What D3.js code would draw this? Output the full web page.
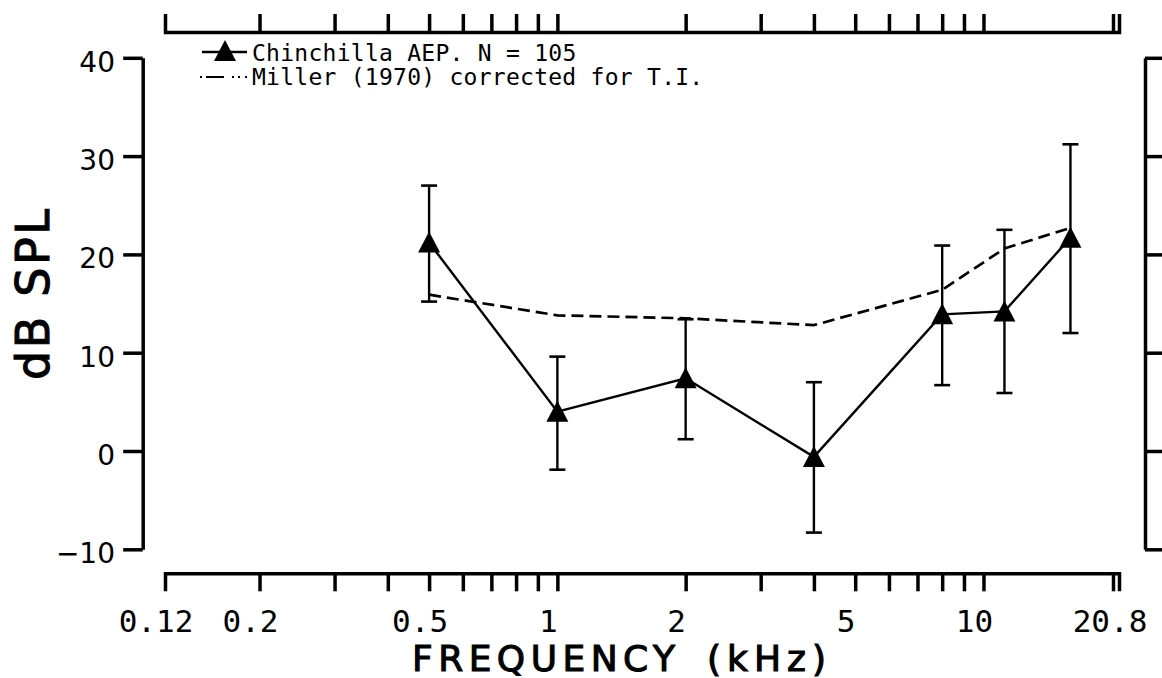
<!DOCTYPE html>
<html>
<head>
<meta charset="utf-8">
<script src="https://cdn.jsdelivr.net/npm/d3@7"></script>
<style>
  html, body { margin: 0; padding: 0; background: #fff; }
  svg { display: block; }
</style>
</head>
<body>
<svg id="chart" width="1162" height="678"></svg>
<script>
// ---------- data ----------
const freqs      = [0.5, 1, 2, 4, 8, 11.2, 16];          // kHz
const chinMean   = [21.2, 4.0, 7.4, -0.6, 13.9, 14.2, 21.7];
const chinUpper  = [27.0, 9.6, 13.4, 7.0, 20.9, 22.5, 31.2];
const chinLower  = [15.2, -1.9, 1.2, -8.3, 6.7, 5.9, 12.0];
const millerFreqs = [0.5, 1, 2, 4, 8, 11.2, 16];
const millerVals  = [15.9, 13.8, 13.5, 12.8, 16.4, 20.6, 22.7];

const xTickVals  = [0.2, 0.3, 0.4, 0.5, 0.6, 0.7, 0.8, 0.9, 1, 2, 3, 4, 5, 6, 7, 8, 9, 10];
const xLabelVals = [0.12, 0.2, 0.5, 1, 2, 5, 10, 20.8];
const xLabelText = ["0.12", "0.2", "0.5", "1", "2", "5", "10", "20.8"];
const yTickVals  = [-10, 0, 10, 20, 30, 40];
const legendText = ["Chinchilla AEP. N = 105", "Miller (1970) corrected for T.I."];

// ---------- scales ----------
const svg = d3.select("#chart");
const x = d3.scaleLog().domain([0.12, 20.8]).range([165, 1119]);
const y = d3.scaleLinear().domain([-10, 40]).range([549.3, 57.8]);

const AX_W = 3.5;

function styleAxis(g) {
  g.selectAll("path.domain").attr("stroke", "#000").attr("stroke-width", AX_W).attr("fill", "none");
  g.selectAll(".tick line").attr("stroke", "#000").attr("stroke-width", AX_W);
  g.selectAll(".tick text").remove();
}

// bottom axis
const gBottom = svg.append("g").attr("transform", "translate(0,573.3)")
  .call(d3.axisBottom(x).tickValues(xTickVals).tickSize(18).tickSizeOuter(18).tickFormat(""));
styleAxis(gBottom);
// top axis
const gTop = svg.append("g").attr("transform", "translate(0,32)")
  .call(d3.axisTop(x).tickValues(xTickVals).tickSize(18).tickSizeOuter(18).tickFormat(""));
styleAxis(gTop);
// double end marks at 20.8
[[573.3, 18], [32, -18]].forEach(([yy, len]) => {
  svg.append("line")
    .attr("x1", x(20.8) - 5.5).attr("x2", x(20.8) - 5.5)
    .attr("y1", yy).attr("y2", yy + len)
    .attr("stroke", "#000").attr("stroke-width", AX_W);
});

// left axis
const gLeft = svg.append("g").attr("transform", "translate(142.7,0)")
  .call(d3.axisLeft(y).tickValues(yTickVals).tickSize(19.5).tickSizeOuter(0).tickFormat(""));
styleAxis(gLeft);
// right axis
const gRight = svg.append("g").attr("transform", "translate(1145,0)")
  .call(d3.axisRight(y).tickValues(yTickVals).tickSize(22).tickSizeOuter(0).tickFormat(""));
styleAxis(gRight);

// x tick labels
svg.append("g").selectAll("text").data(xLabelVals).join("text")
  .attr("x", d => x(d) - 9)
  .attr("y", 632)
  .attr("text-anchor", "middle")
  .attr("font-family", "DejaVu Sans Mono")
  .attr("font-size", 31)
  .attr("fill", "#000")
  .text((d, i) => xLabelText[i]);

// y tick labels
svg.append("g").selectAll("text").data(yTickVals).join("text")
  .attr("x", 115)
  .attr("y", d => y(d) + 14)
  .attr("text-anchor", "end")
  .attr("font-family", "DejaVu Sans")
  .attr("font-size", 28)
  .attr("fill", "#000")
  .text(d => d < 0 ? "\u2212" + Math.abs(d) : d);

// axis titles
const titleStyle = t => t
  .attr("font-family", "DejaVu Sans")
  .attr("fill", "#000")
  .attr("stroke", "#000")
  .attr("stroke-width", 1.1)
  .attr("lengthAdjust", "spacing");
svg.append("text")
  .attr("x", 412).attr("y", 671)
  .attr("font-size", 36)
  .attr("textLength", 263)
  .call(titleStyle)
  .text("FREQUENCY");
svg.append("text")
  .attr("x", 707).attr("y", 671)
  .attr("font-size", 36)
  .attr("textLength", 119)
  .call(titleStyle)
  .text("(kHz)");
svg.append("text")
  .attr("transform", "translate(49,380) rotate(-90)")
  .attr("font-size", 46)
  .attr("textLength", 171)
  .call(titleStyle)
  .text("dB SPL");

// ---------- data marks ----------
const plot = svg.append("g");

// Miller dashed line
plot.append("path")
  .datum(millerFreqs.map((f, i) => [f, millerVals[i]]))
  .attr("d", d3.line().x(d => x(d[0])).y(d => y(d[1])))
  .attr("fill", "none").attr("stroke", "#000")
  .attr("stroke-width", 2.7).attr("stroke-dasharray", "12,6");

// error bars
const capW = 8;
const eb = plot.append("g").selectAll("g").data(freqs).join("g");
eb.append("line")
  .attr("x1", d => x(d)).attr("x2", d => x(d))
  .attr("y1", (d, i) => y(chinUpper[i])).attr("y2", (d, i) => y(chinLower[i]))
  .attr("stroke", "#000").attr("stroke-width", 2.4);
eb.append("line")
  .attr("x1", d => x(d) - capW).attr("x2", d => x(d) + capW)
  .attr("y1", (d, i) => y(chinUpper[i])).attr("y2", (d, i) => y(chinUpper[i]))
  .attr("stroke", "#000").attr("stroke-width", 2.6);
eb.append("line")
  .attr("x1", d => x(d) - capW).attr("x2", d => x(d) + capW)
  .attr("y1", (d, i) => y(chinLower[i])).attr("y2", (d, i) => y(chinLower[i]))
  .attr("stroke", "#000").attr("stroke-width", 2.6);

// chinchilla solid line
plot.append("path")
  .datum(freqs.map((f, i) => [f, chinMean[i]]))
  .attr("d", d3.line().x(d => x(d[0])).y(d => y(d[1])))
  .attr("fill", "none").attr("stroke", "#000").attr("stroke-width", 2.4);

// triangle markers
const tri = (cx, cy) => `M${cx},${cy - 11}L${cx + 11},${cy + 10}L${cx - 11},${cy + 10}Z`;
plot.append("g").selectAll("path").data(freqs).join("path")
  .attr("d", (d, i) => tri(x(d), y(chinMean[i])))
  .attr("fill", "#000");

// ---------- legend ----------
const lg = svg.append("g");
lg.append("line").attr("x1", 202).attr("x2", 247).attr("y1", 52).attr("y2", 52)
  .attr("stroke", "#000").attr("stroke-width", 2.4);
lg.append("path").attr("d", tri(225, 51)).attr("fill", "#000");
lg.append("line").attr("x1", 200).attr("x2", 249).attr("y1", 77).attr("y2", 77)
  .attr("stroke", "#000").attr("stroke-width", 2.2)
  .attr("stroke-dasharray", "2,4,18,8,2,4,2,5");
lg.selectAll("text").data(legendText).join("text")
  .attr("x", 252)
  .attr("y", (d, i) => i === 0 ? 61 : 85)
  .attr("font-family", "DejaVu Sans Mono")
  .attr("font-size", 23)
  .attr("textLength", d => d.length * 14.1)
  .attr("lengthAdjust", "spacing")
  .attr("fill", "#000")
  .text(d => d);
</script>
</body>
</html>
